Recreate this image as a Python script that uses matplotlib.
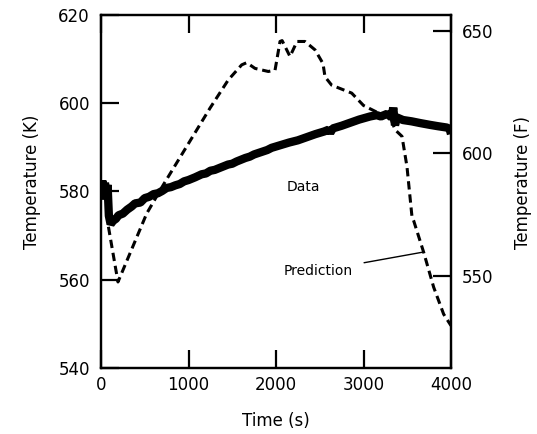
import matplotlib
matplotlib.use("Agg")
import matplotlib.pyplot as plt

plt.rcParams['font.family'] = ['DejaVu Sans']
plt.rcParams['lines.scale_dashes'] = False

# measured data (thick band)
t_data = [0, 15, 30, 45, 60, 75, 90, 110, 140, 170, 200, 250, 300, 350, 389, 450, 500, 550,
          600, 650, 697, 750, 800, 850, 900, 950, 1000, 1074, 1150, 1200, 1250, 1300, 1350,
          1451, 1500, 1550, 1650, 1700, 1750, 1840, 1900, 1950, 2050, 2150, 2250, 2350,
          2450, 2550, 2600, 2620, 2650, 2750, 2850, 2950, 3074, 3150, 3200, 3269, 3320,
          3340, 3360, 3380, 3451, 3550, 3650, 3760, 3850, 3950, 3985, 4000]
k_data = [579.5, 582.5, 578.2, 582.0, 578.8, 581.5, 574.5, 572.6, 573.4, 573.8, 574.6, 575.0,
          575.9, 576.6, 577.3, 577.5, 578.5, 578.8, 579.4, 579.6, 580.1, 580.8, 581.0, 581.4,
          581.7, 582.3, 582.6, 583.2, 583.9, 584.1, 584.7, 584.9, 585.3, 586.1, 586.3, 586.8,
          587.6, 587.9, 588.4, 589.0, 589.4, 589.9, 590.5, 591.1, 591.6, 592.3, 593.0, 593.6,
          594.0, 593.3, 594.3, 594.9, 595.6, 596.3, 597.0, 597.3, 597.0, 597.6, 596.8, 599.0,
          595.0, 596.8, 596.2, 595.9, 595.5, 595.1, 594.8, 594.5, 594.2, 593.0]

# code prediction (dashed)
t_pred = [85, 194, 522, 712, 1246, 1455, 1608, 1665, 1760, 1912, 1989, 2046, 2070, 2160,
          2240, 2331, 2446, 2537, 2560, 2636, 2865, 3000, 3150, 3300, 3360, 3440, 3497,
          3554, 3573, 3688, 3802, 3916, 4000]
k_pred = [572.0, 559.5, 575.0, 581.5, 598.9, 605.3, 608.7, 609.2, 607.9, 607.2, 607.5, 614.0,
          614.2, 610.6, 614.0, 614.0, 612.1, 609.0, 606.0, 604.1, 602.3, 599.5, 598.0, 597.3,
          594.0, 592.5, 585.6, 574.3, 573.4, 566.2, 558.3, 552.2, 549.6]

x_ticks = [0, 1000, 2000, 3000, 4000]
k_ticks = [540, 560, 580, 600, 620]
f_ticks = [550, 600, 650]


def k_to_f(k):
    return (k - 273.15) * 9 / 5 + 32


fig = plt.figure(figsize=(5.37, 4.34), dpi=100)
ax = fig.add_axes([101 / 537, 1 - 368 / 434, 350 / 537, 353 / 434])

ax.plot(t_data, k_data, color='black', lw=6, solid_joinstyle='bevel', solid_capstyle='butt')
ax.plot(t_pred, k_pred, color='black', lw=2.2, dashes=(6, 3.5))

ax.set_xlim(0, 4000)
ax.set_ylim(540, 620)
ax.set_xticks(x_ticks)
ax.set_yticks(k_ticks)
ax.tick_params(axis='both', direction='in', length=13, width=1.6, labelsize=12, pad=8)
ax.tick_params(axis='x', top=True, pad=6)
ax.tick_params(axis='y', right=False)
for s in ax.spines.values():
    s.set_linewidth(1.6)

ax2 = ax.twinx()
ax2.set_ylim(k_to_f(540), k_to_f(620))
ax2.set_yticks(f_ticks)
ax2.tick_params(axis='y', direction='in', length=13, width=1.6, labelsize=12, pad=8)
for s in ax2.spines.values():
    s.set_linewidth(1.6)

ax.text(2126, 581, 'Data', fontsize=10, va='center', ha='left')
ax.annotate('Prediction', xy=(3691, 566.3), xytext=(2091, 562), fontsize=10,
            va='center', ha='left',
            arrowprops=dict(arrowstyle='-', color='black', lw=1.0, shrinkA=6, shrinkB=0))

fig.text(32 / 537, 1 - 182 / 434, 'Temperature (K)', rotation=90, ha='center', va='center', fontsize=12)
fig.text(523 / 537, 1 - 182 / 434, 'Temperature (F)', rotation=90, ha='center', va='center', fontsize=12)
fig.text(276 / 537, 1 - 421 / 434, 'Time (s)', ha='center', va='center', fontsize=12)

fig.savefig('out.png', dpi=100)
